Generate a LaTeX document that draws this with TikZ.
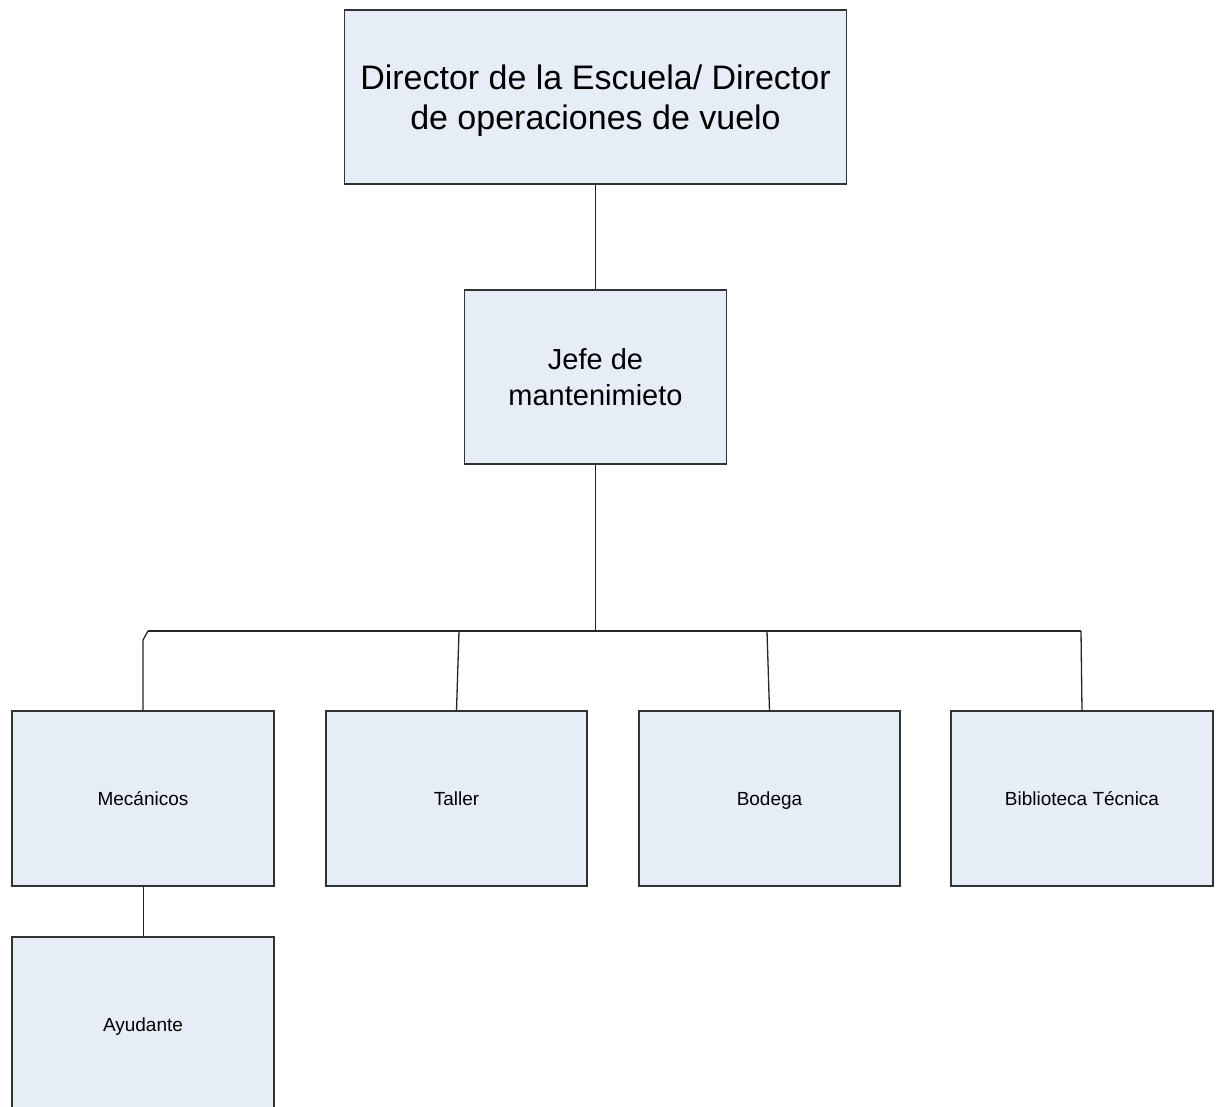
\documentclass[tikz,border=0pt]{standalone}
\usepackage{fontspec}
\setmainfont{Liberation Sans}
\definecolor{boxfill}{RGB}{231,237,247}
\definecolor{boxline}{RGB}{50,50,50}
\newcommand{\lowstrut}{\rule[-4pt]{0pt}{22.8pt}}
\begin{document}
\begin{tikzpicture}[x=1pt,y=-1pt,
  orgbox/.style={draw=boxline,fill=boxfill,line width=1.1pt,inner sep=0pt,align=center,anchor=center},
  smalltext/.style={font=\fontsize{19}{22}\selectfont},
  conn/.style={draw=black!85,line width=1.3pt}]
\useasboundingbox (0,0) rectangle (1221,1106);
\clip (0,0) rectangle (1221,1106);
\node[orgbox,minimum width=502pt,minimum height=174pt,font=\fontsize{34}{40}\selectfont] (dir) at (595.5,97) {\rule{0pt}{33pt}Director de la Escuela/ Director\\de operaciones de vuelo};
\node[orgbox,minimum width=262pt,minimum height=174pt,font=\fontsize{29}{36}\selectfont] (jefe) at (595.5,377) {Jefe de\\mantenimieto};
\node[orgbox,smalltext,minimum width=262pt,minimum height=175pt] (mec) at (143,798.5) {\lowstrut Mecánicos};
\node[orgbox,smalltext,minimum width=261pt,minimum height=175pt] (tal) at (456.5,798.5) {\lowstrut Taller};
\node[orgbox,smalltext,minimum width=261pt,minimum height=175pt] (bod) at (769.5,798.5) {\lowstrut Bodega};
\node[orgbox,smalltext,minimum width=262pt,minimum height=175pt] (bib) at (1082,798.5) {\lowstrut Biblioteca Técnica};
\node[orgbox,smalltext,minimum width=262pt,minimum height=175pt] (ayu) at (143,1024.5) {\lowstrut Ayudante};
\coordinate (hub) at (595.5,631);
\coordinate (bl) at (148,631);
\coordinate (bk) at (143,640);
\coordinate (bt) at (459,631);
\coordinate (bb) at (767,631);
\coordinate (br) at (1081,631);
\draw[conn,line width=1pt] (dir.south) -- (jefe.north);
\draw[conn] (jefe.south) -- (hub);
\draw[conn] (bl) -- (br);
\draw[conn] (bl) -- (bk) -- (mec.north);
\draw[conn] (bt) -- (tal.north);
\draw[conn] (bb) -- (bod.north);
\draw[conn] (br) -- (bib.north);
\draw[conn,line width=1pt] (mec.south) -- (ayu.north);
\end{tikzpicture}
\end{document}
